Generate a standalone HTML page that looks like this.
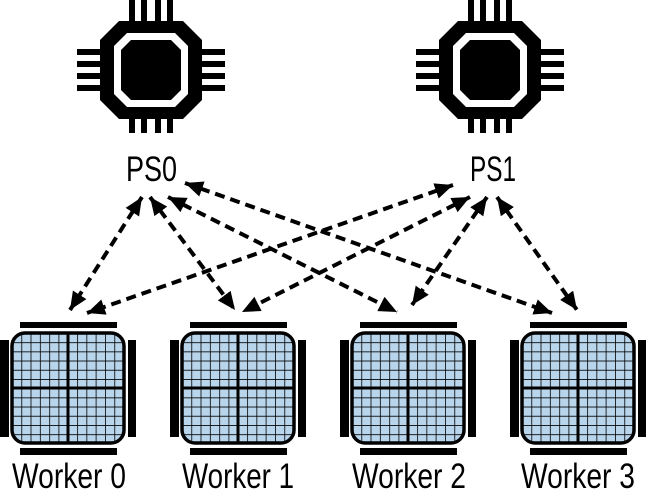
<!DOCTYPE html>
<html><head><meta charset="utf-8"><style>
html,body{margin:0;padding:0;background:#fff;}
svg{display:block;}
text{font-family:"Liberation Sans",sans-serif;fill:#000;}
</style></head><body>
<svg width="646" height="503" viewBox="0 0 646 503" xmlns="http://www.w3.org/2000/svg">
<defs>
<marker id="ah" markerUnits="userSpaceOnUse" markerWidth="20" markerHeight="18" refX="18" refY="8" orient="auto-start-reverse" viewBox="0 0 20 18">
<path d="M0,0 L18,8 L0,16 z" fill="#000"/>
</marker>
<pattern id="grid" width="9.3" height="9.2" patternUnits="userSpaceOnUse" x="12" y="333">
<rect width="9.3" height="9.2" fill="#b9d5ec"/>
<path d="M0,0 H9.3 M0,0 V9.2" stroke="#000" stroke-width="1.6" fill="none"/>
</pattern>
<g id="chip">
<g fill="#000">
<rect x="-22" y="-70" width="6" height="22"/><rect x="-10" y="-70" width="6" height="22"/><rect x="4" y="-70" width="6" height="22"/><rect x="16" y="-70" width="6" height="22"/>
<rect x="-22" y="45" width="6" height="18"/><rect x="-10" y="45" width="6" height="18"/><rect x="4" y="45" width="6" height="18"/><rect x="16" y="45" width="6" height="18"/>
<rect x="-74" y="-21" width="25" height="6"/><rect x="-74" y="-9" width="25" height="6"/><rect x="-74" y="3" width="25" height="6"/><rect x="-74" y="15" width="25" height="6"/>
<rect x="49" y="-21" width="25" height="6"/><rect x="49" y="-9" width="25" height="6"/><rect x="49" y="3" width="25" height="6"/><rect x="49" y="15" width="25" height="6"/>
<polygon points="-32,-49 32,-49 51,-30 51,30 32,49 -32,49 -51,30 -51,-30"/>
</g>
<polygon points="-24,-37 24,-37 37,-24 37,24 24,37 -24,37 -37,24 -37,-24" fill="#fff"/>
<polygon points="-20,-30 20,-30 30,-20 30,20 20,30 -20,30 -30,20 -30,-20" fill="#000"/>
</g>
<g id="worker">
<rect x="20" y="322" width="97" height="6" fill="#000"/>
<rect x="20" y="448" width="97" height="7" fill="#000"/>
<rect x="0" y="340" width="9" height="97" fill="#000"/>
<rect x="128" y="340" width="8" height="97" fill="#000"/>
<rect x="12" y="333" width="112" height="110" rx="13" fill="url(#grid)"/>
<path d="M68,333 V443 M12,388 H124" stroke="#000" stroke-width="3"/>
<rect x="12" y="333" width="112" height="110" rx="13" fill="none" stroke="#000" stroke-width="3.5"/>
</g>
</defs>

<use href="#chip" transform="translate(151,70)"/>
<use href="#chip" transform="translate(490,70)"/>
<text x="126" y="181" font-size="35" textLength="51" lengthAdjust="spacingAndGlyphs">PS0</text>
<text x="470" y="181" font-size="35" textLength="46" lengthAdjust="spacingAndGlyphs">PS1</text>

<use href="#worker" transform="translate(0,0)"/>
<use href="#worker" transform="translate(170,0)"/>
<use href="#worker" transform="translate(340,0)"/>
<use href="#worker" transform="translate(510,0)"/>

<g font-size="35">
<text x="12" y="488" textLength="114" lengthAdjust="spacingAndGlyphs">Worker 0</text>
<text x="182" y="488" textLength="112" lengthAdjust="spacingAndGlyphs">Worker 1</text>
<text x="352" y="488" textLength="114" lengthAdjust="spacingAndGlyphs">Worker 2</text>
<text x="521" y="488" textLength="114" lengthAdjust="spacingAndGlyphs">Worker 3</text>
</g>

<g stroke="#000" stroke-width="4" stroke-dasharray="10,6" fill="none" marker-start="url(#ah)" marker-end="url(#ah)">
<line x1="142" y1="197" x2="70" y2="310"/>
<line x1="150" y1="197" x2="235" y2="310"/>
<line x1="168" y1="197" x2="397" y2="312"/>
<line x1="185" y1="183" x2="552" y2="313"/>
<line x1="453" y1="185" x2="87" y2="313"/>
<line x1="470" y1="197" x2="242" y2="312"/>
<line x1="487" y1="197" x2="412" y2="305"/>
<line x1="497" y1="197" x2="577" y2="310"/>
</g>
</svg>
</body></html>
